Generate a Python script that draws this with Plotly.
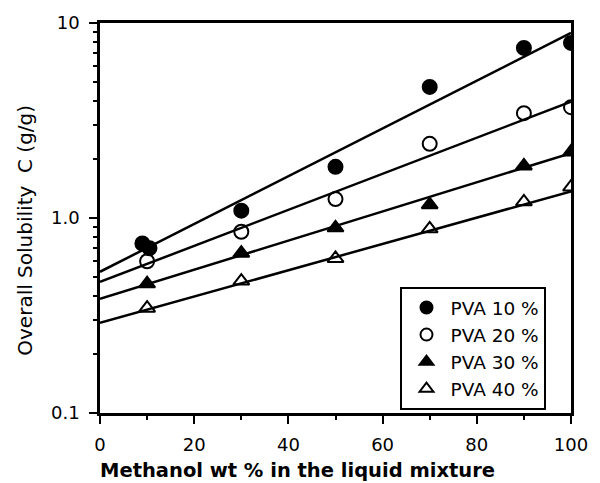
import plotly.graph_objects as go

# Methanol content of the liquid mixture (wt %)
methanol_pva10 = [9, 10.5, 30, 50, 70, 90, 100]
methanol = [10, 30, 50, 70, 90, 100]

# Overall solubility C (g/g) for each PVA concentration
pva10 = [0.74, 0.70, 1.09, 1.83, 4.7, 7.45, 7.9]
pva20 = [0.60, 0.85, 1.25, 2.4, 3.45, 3.7]
pva30 = [0.46, 0.66, 0.89, 1.17, 1.85, 2.18]
pva40 = [0.345, 0.475, 0.62, 0.88, 1.21, 1.44]

# Exponential fit lines (straight on the log axis), value at 0 % and 100 % methanol
fit_x = [0, 100]
fit_pva10 = [0.53, 8.9]
fit_pva20 = [0.47, 3.95]
fit_pva30 = [0.385, 2.15]
fit_pva40 = [0.29, 1.37]

labels = ["PVA 10 %", "PVA 20 %", "PVA 30 %", "PVA 40 %"]
symbols = ["circle", "circle-open", "triangle-up", "triangle-up-open"]

FONT = "DejaVu Sans"

fig = go.Figure()

for fit in [fit_pva10, fit_pva20, fit_pva30, fit_pva40]:
    fig.add_trace(go.Scatter(
        x=fit_x, y=fit, mode="lines",
        line=dict(color="black", width=2.5),
        showlegend=False, hoverinfo="skip",
    ))

series = [(methanol_pva10, pva10), (methanol, pva20), (methanol, pva30), (methanol, pva40)]
for (xs, ys), name, sym in zip(series, labels, symbols):
    fig.add_trace(go.Scatter(
        x=xs, y=ys, mode="markers", name=name,
        marker=dict(symbol=sym, size=14, color="black",
                    line=dict(color="black", width=2)),
    ))

fig.update_layout(
    width=600, height=483,
    margin=dict(l=100, r=25, t=23, b=70),
    paper_bgcolor="white", plot_bgcolor="white",
    font=dict(family=FONT, size=18, color="black"),
    legend=dict(
        x=0.638, y=0.323, xanchor="left", yanchor="top",
        bordercolor="black", borderwidth=2, bgcolor="white",
        font=dict(size=18.5), itemsizing="constant", itemwidth=38,
        tracegroupgap=0,
    ),
    annotations=[
        dict(text="<b>Methanol wt % in the liquid mixture</b>",
             xref="paper", yref="paper", x=-0.004, y=-0.148,
             xanchor="left", yanchor="middle", showarrow=False,
             font=dict(size=19.5)),
        dict(text="Overall Solubility  C (g/g)",
             xref="paper", yref="paper", x=-0.16, y=0.469,
             xanchor="center", yanchor="middle", textangle=-90,
             showarrow=False, font=dict(size=20)),
    ],
)

fig.update_xaxes(
    range=[0, 100], tickmode="linear", tick0=0, dtick=20,
    ticks="outside", ticklen=8, tickwidth=2, tickcolor="black",
    minor=dict(ticks="outside", ticklen=4, tickwidth=1.5, dtick=10, tickcolor="black"),
    showline=True, linewidth=2.5, linecolor="black", mirror=True,
    showgrid=False, zeroline=False,
    ticklabelstandoff=6,
    tickfont=dict(size=18),
)

fig.update_yaxes(
    type="log", range=[-1, 1], dtick=1,
    ticks="outside", ticklen=8, tickwidth=2, tickcolor="black",
    minor=dict(ticks="outside", ticklen=4, tickwidth=1.5, dtick="D1", tickcolor="black"),
    labelalias={"1": "1.0"},
    showline=True, linewidth=2.5, linecolor="black", mirror=True,
    showgrid=False, zeroline=False,
    ticklabelstandoff=6,
    tickfont=dict(size=18),
)

fig.write_html("out.html")
